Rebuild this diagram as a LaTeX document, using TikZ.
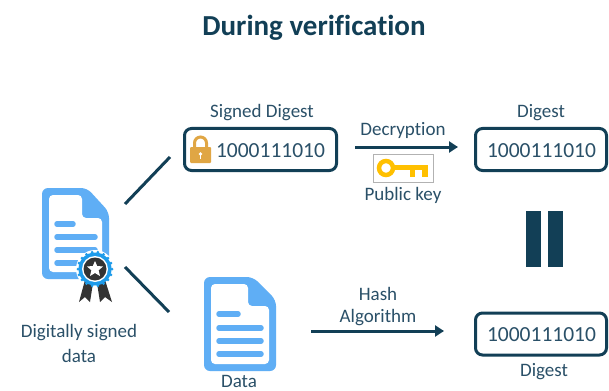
\documentclass[tikz,border=0pt]{standalone}
\usepackage{fontspec}
\setmainfont{Carlito}[Ligatures=NoCommon]
\usetikzlibrary{arrows.meta}
\definecolor{navy}{HTML}{123F56}
\definecolor{txt}{HTML}{2A5068}
\definecolor{docblue}{HTML}{5FAEF5}
\definecolor{sealblue}{HTML}{1E9BEA}
\definecolor{lockc}{HTML}{E0A644}
\definecolor{keyc}{HTML}{FFC000}
\tikzset{
  x=1pt,y=-1pt,
  lbl/.style={text=txt,font=\fontsize{19}{21}\selectfont,inner sep=0pt,anchor=center},
  binary/.style={text=txt,font=\fontsize{21.5}{24}\selectfont,inner sep=0pt,anchor=center},
  valuebox/.style={draw=navy,line width=3pt,rounded corners=7pt,fill=white,inner sep=0pt,minimum height=42pt},
  conn/.style={draw=navy,line width=3pt},
  arrowline/.style={draw=navy,line width=3pt,-{Triangle[length=9pt,width=11pt]}},
  docline/.style={draw=docblue,line width=5.5pt,line cap=round},
}
\newcommand{\docicon}[6]{% x0 y0 x1 y1 foldx foldy
  \fill[docblue,rounded corners=6pt] (#1,#2) -- (#5,#2) -- (#3,#6) -- (#3,#4) -- (#1,#4) -- cycle;
  \fill[white,rounded corners=4pt] (#1+7,#2+7) -- (#5-5,#2+7) -- (#5-5,#6+6) -- (#3-7,#6+6) -- (#3-7,#4-7) -- (#1+7,#4-7) -- cycle;
}
\begin{document}
\begin{tikzpicture}
\useasboundingbox (0,0) rectangle (609,390);
\fill[white] (0,0) rectangle (609,390);
\node[text=navy,font=\bfseries\fontsize{29}{32}\selectfont,inner sep=0pt] (title) at (314,27.5) {During verification};

% certified document
\docicon{42}{188}{109}{279}{87}{212}
\draw[docline] (57,224) -- (73,224);
\draw[docline] (57,237) -- (95,237);
\draw[docline] (57,250) -- (95,250);
\draw[docline] (57,263) -- (95,263);
\fill[white] (95,269) circle (19);
\fill[black!80] (85,280) -- (93,283) -- (90,302) -- (85,297) -- (79,302) -- cycle;
\fill[black!80] (105,280) -- (97,283) -- (100,302) -- (105,297) -- (112,302) -- cycle;
\fill[sealblue] (95,269) circle (16.5);
\foreach \a in {0,20,...,340} \fill[sealblue] (95,269) ++(\a:17) circle (1.5);
\fill[white] (95,269) circle (13);
\fill[black!80] (95,269) circle (11.5);
\fill[white] (95,261) -- (97.2,266) -- (103,266.5) -- (98.6,270.3) -- (100,276) -- (95,273) -- (90,276) -- (91.4,270.3) -- (87,266.5) -- (92.8,266) -- cycle;
\node[lbl] (dsa) at (79,333) {Digitally signed};
\node[lbl] (dsb) at (79,356) {data};

% connectors from the document
\coordinate (c1a) at (125,204); \coordinate (c1b) at (170,157);
\coordinate (c2a) at (125,267); \coordinate (c2b) at (169,312);
\draw[conn] (c1a) -- (c1b);
\draw[conn] (c2a) -- (c2b);

% signed digest
\node[lbl] (sd) at (262,112.5) {Signed Digest};
\node[valuebox,minimum width=152pt] (sbox) at (260.5,149.5) {};
\node[binary] (sval) at (270.5,150.5) {1000111010};
\draw[lockc,line width=3pt] (194.5,148) -- (194.5,143) arc (180:360:6 and 6) -- (206.5,148);
\fill[lockc,rounded corners=1pt] (190,147) rectangle (211,163);
\fill[white] (200.5,154) circle (1.8);
\fill[white] (199.7,154) rectangle (201.3,159);

% decryption
\node[lbl] (dec) at (403,130.5) {Decryption};
\coordinate (a1a) at (355,147); \coordinate (a1b) at (458,147);
\draw[arrowline] (a1a) -- (a1b);
\node[draw=black!30,line width=0.8pt,fill=white,minimum width=60pt,minimum height=28pt,inner sep=0pt] (kbox) at (403,168) {};
\draw[keyc,line width=4.5pt] (386,168) circle (7);
\fill[keyc] (394,165) rectangle (428,170);
\fill[keyc] (410,170) rectangle (415,177);
\fill[keyc] (422,170) rectangle (428,177);
\node[lbl] (pk) at (403,195.5) {Public key};

% digest top
\node[lbl] (dt) at (541,112.5) {Digest};
\node[valuebox,minimum width=131pt] (tbox) at (541,149.5) {};
\node[binary] (tval) at (541.5,150.5) {1000111010};

% equals (rotated)
\fill[navy] (526,211) rectangle (541,267);
\fill[navy] (548,211) rectangle (563,267);

% data document
\docicon{204}{277}{276}{371}{253}{300}
\draw[docline] (219,314) -- (238,314);
\draw[docline] (219,328) -- (261,328);
\draw[docline] (219,341) -- (261,341);
\draw[docline] (219,354) -- (261,354);
\node[lbl] (dat) at (239,381) {Data};

% hash
\node[lbl] (h1) at (378,293.5) {Hash};
\node[lbl] (h2) at (378,317.5) {Algorithm};
\coordinate (a2a) at (311,331); \coordinate (a2b) at (444,331);
\draw[arrowline] (a2a) -- (a2b);

% digest bottom
\node[valuebox,minimum width=131pt] (bbox) at (541,334) {};
\node[binary] (bval) at (541.5,334.5) {1000111010};
\node[lbl] (db) at (544,371.5) {Digest};
\end{tikzpicture}
\end{document}
